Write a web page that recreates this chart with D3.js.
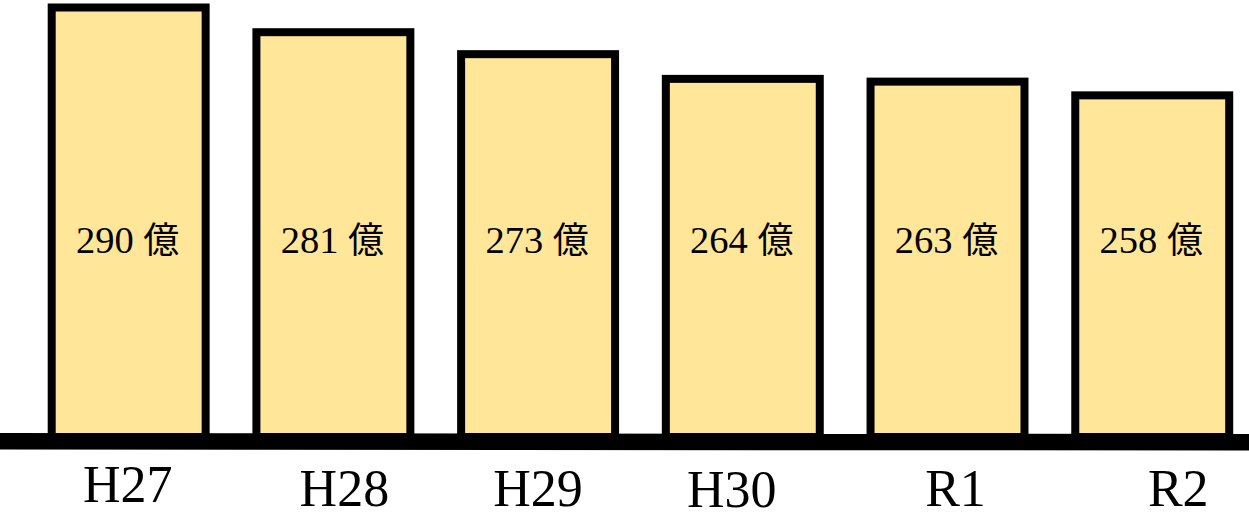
<!DOCTYPE html>
<html>
<head>
<meta charset="utf-8">
<script src="https://cdn.jsdelivr.net/npm/d3@7"></script>
<style>
  html, body { margin: 0; padding: 0; background: #ffffff; }
  svg { display: block; }
</style>
</head>
<body>
<svg id="chart" width="1249" height="518"></svg>
<script>
// ---- data ----
const categories = ["H27", "H28", "H29", "H30", "R1", "R2"];
const values = [290, 281, 273, 264, 263, 258];
const unitLabel = "億";
// per-label nudges of the category labels (layout only)
const labelNudgeX = [-1, 11, 0, -11, 8, 26];
const labelNudgeY = [-4, 0, 0, 1, 0, 0];

// ---- layout ----
const W = 1249, H = 518;
const baseY = 433;
const svg = d3.select("#chart");

const x = d3.scaleBand()
  .domain(categories)
  .range([51.7, 1229.2])
  .paddingInner(0.248)
  .paddingOuter(0);

const y = d3.scaleLinear()
  .domain([135, 290])
  .range([baseY, 7.5]);

// bars
svg.append("g").selectAll("rect")
  .data(categories)
  .join("rect")
  .attr("x", d => x(d))
  .attr("y", (d, i) => y(values[i]))
  .attr("width", x.bandwidth())
  .attr("height", (d, i) => y(y.domain()[0]) + 4 - y(values[i]))
  .attr("fill", "#FFE699")
  .attr("stroke", "#000")
  .attr("stroke-width", 8);

// baseline
svg.append("line")
  .attr("x1", 0).attr("x2", W)
  .attr("y1", baseY + 8.3).attr("y2", baseY + 9.3)
  .attr("stroke", "#000")
  .attr("stroke-width", 16.5);

// value labels
const vl = svg.append("g").selectAll("text")
  .data(categories)
  .join("text")
  .attr("x", d => x(d) + x.bandwidth() / 2 - 1)
  .attr("y", 252.5)
  .attr("text-anchor", "middle")
  .attr("font-size", 38.5)
  .attr("fill", "#000");
vl.append("tspan")
  .attr("font-family", "'Liberation Serif', 'Times New Roman', serif")
  .text((d, i) => values[i] + " ");
vl.append("tspan")
  .attr("font-family", "'Noto Sans CJK JP', sans-serif")
  .attr("font-size", 36)
  .text(unitLabel);

// category axis labels
const axis = d3.axisBottom(x).tickSize(0).tickPadding(0);
const gAxis = svg.append("g")
  .attr("transform", `translate(0, ${baseY})`)
  .call(axis);
gAxis.select(".domain").remove();
gAxis.selectAll(".tick text")
  .attr("font-family", "'Liberation Serif', serif")
  .attr("font-size", 52)
  .attr("fill", "#000")
  .attr("dy", null)
  .attr("y", (d, i) => 73 + labelNudgeY[i])
  .attr("x", (d, i) => labelNudgeX[i]);
</script>
</body>
</html>
